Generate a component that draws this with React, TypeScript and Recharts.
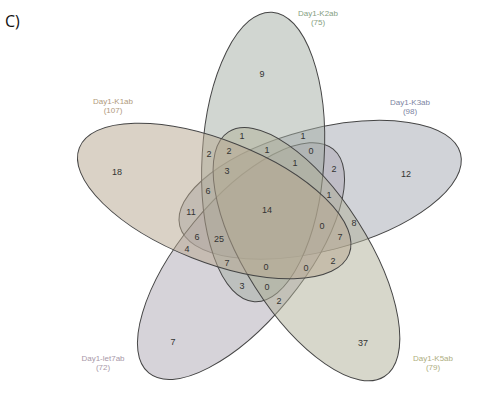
import React from 'react';
import { ScatterChart, Scatter, XAxis, YAxis } from 'recharts';

// ---- data ----
const setNames = ['Day1-K1ab', 'Day1-K2ab', 'Day1-K3ab', 'Day1-K5ab', 'Day1-let7ab'];
const setTotals = [107, 75, 98, 79, 72];
const regionCounts = [
  9, 1, 1, 2, 2, 1, 0, 3, 1, 2, 6, 1, 14, 11, 8, 0,
  7, 6, 25, 4, 2, 7, 0, 0, 3, 0, 2, 7, 37, 18, 12,
];

// ---- layout (chart units = px) ----
const regionX = [
  262, 242, 303, 209, 229, 267, 311, 227, 295, 334, 208, 329, 267, 191, 354, 322,
  340, 197, 219, 187, 333, 227, 266, 306, 242, 267, 279, 173, 363, 117, 406,
];
const regionY = [
  74, 136, 136, 154, 151, 150, 151, 171, 163, 169, 191, 195, 210, 212, 223, 226,
  237, 237, 239, 249, 261, 263, 267, 268, 286, 287, 301, 342, 343, 172, 174,
];
const labelX = [113, 318, 410, 433, 103];
const labelY = [101, 13, 102, 358, 358];

const CX = 269;
const CY = 212.6;
const DIST = 56;
const A = 145;
const B = 61;
const baseAngles = [162, 90, 18, -54, 234];
const CENTER_TWIST = 6;
const AXIS_TWIST = -3.5;
const fills = ['#b6a68e', '#a4aea4', '#a3a7b2', '#b0b098', '#aea8b3'];
const labelColors = ['#b09a7c', '#86a082', '#7c84a2', '#aeae80', '#a898a8'];
const drawOrder = [2, 4, 1, 3, 0];

const ellipses = drawOrder.map((i) => {
  const t = ((baseAngles[i] + CENTER_TWIST) * Math.PI) / 180;
  return {
    x: CX + DIST * Math.cos(t),
    y: CY - DIST * Math.sin(t),
    rot: -(baseAngles[i] + AXIS_TWIST),
    fill: fills[i],
  };
});

const regions = regionCounts.map((v, i) => ({ x: regionX[i], y: regionY[i], v }));
const setLabels = setNames.map((n, i) => ({
  x: labelX[i],
  y: labelY[i],
  name: n,
  total: setTotals[i],
  color: labelColors[i],
}));

const EllipseShape = (props: any) => {
  const { cx, cy, payload } = props;
  return (
    <ellipse
      cx={cx}
      cy={cy}
      rx={A}
      ry={B}
      transform={`rotate(${payload.rot} ${cx} ${cy})`}
      fill={payload.fill}
      fillOpacity={0.5}
      stroke="#454545"
      strokeWidth={1}
    />
  );
};

const CountShape = (props: any) => {
  const { cx, cy, payload } = props;
  return (
    <text
      x={cx}
      y={cy}
      textAnchor="middle"
      dominantBaseline="central"
      fontFamily="'Liberation Sans', Arial, sans-serif"
      fontSize={9}
      fill="#333"
    >
      {payload.v}
    </text>
  );
};

const SetLabelShape = (props: any) => {
  const { cx, cy, payload } = props;
  return (
    <g>
      <text
        x={cx}
        y={cy}
        textAnchor="middle"
        dominantBaseline="central"
        fontFamily="'Liberation Sans', Arial, sans-serif"
        fontSize={8}
        fill={payload.color}
      >
        {payload.name}
      </text>
      <text
        x={cx}
        y={cy + 9}
        textAnchor="middle"
        dominantBaseline="central"
        fontFamily="'Liberation Sans', Arial, sans-serif"
        fontSize={8}
        fill={payload.color}
      >
        {`(${payload.total})`}
      </text>
    </g>
  );
};

export default function App() {
  return (
    <div style={{ position: 'absolute', left: 0, top: 0, width: 481, height: 410, background: '#fff' }}>
      <div
        style={{
          position: 'absolute',
          left: 5,
          top: 11,
          fontFamily: "'Open Sans', 'Liberation Sans', sans-serif",
          fontSize: 16,
          color: '#111',
          lineHeight: '20px',
        }}
      >
        C)
      </div>
      <ScatterChart width={481} height={410} margin={{ top: 0, right: 0, bottom: 0, left: 0 }}>
        <XAxis type="number" dataKey="x" domain={[0, 481]} hide />
        <YAxis type="number" dataKey="y" domain={[0, 410]} reversed hide />
        <Scatter data={ellipses} shape={EllipseShape} isAnimationActive={false} />
        <Scatter data={regions} shape={CountShape} isAnimationActive={false} />
        <Scatter data={setLabels} shape={SetLabelShape} isAnimationActive={false} />
      </ScatterChart>
    </div>
  );
}
